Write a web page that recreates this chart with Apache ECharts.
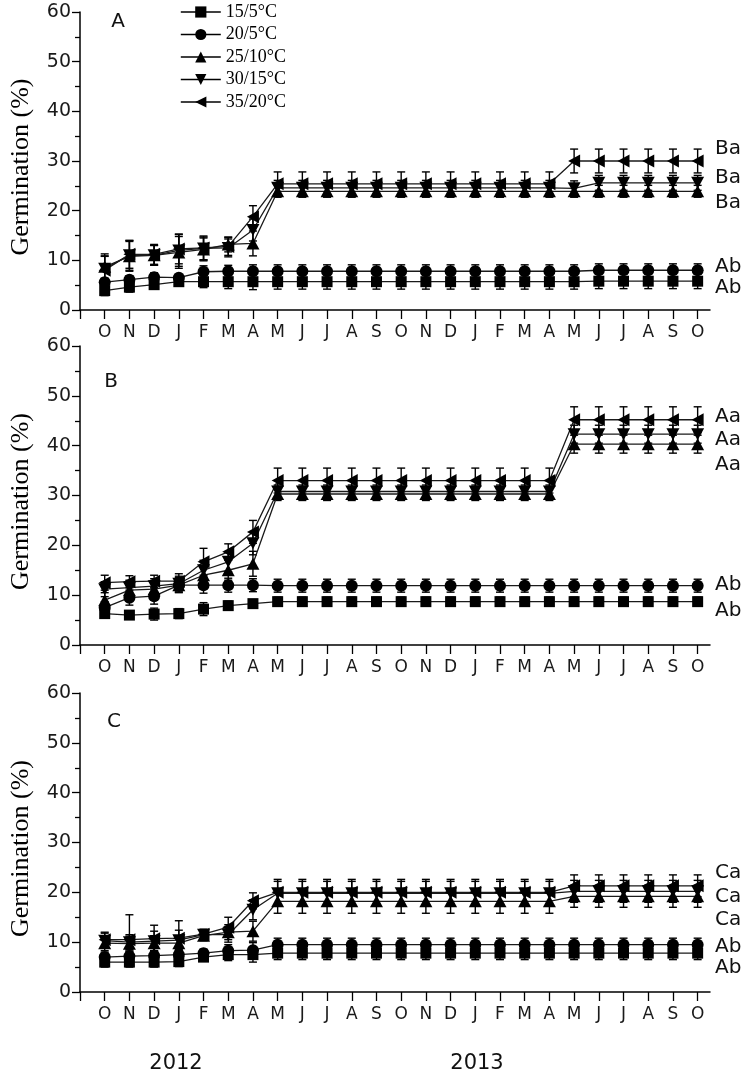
<!DOCTYPE html>
<html><head><meta charset="utf-8">
<script src="https://cdn.jsdelivr.net/npm/echarts@6/dist/echarts.min.js"></script>
<style>html,body{margin:0;padding:0;background:#fff}#c{width:748px;height:1079px}</style>
</head><body><div id="c"></div>
<script>
// ---- data ----
const months = ['O','N','D','J','F','M','A','M','J','J','A','S','O','N','D','J','F','M','A','M','J','J','A','S','O'];
const seriesNames = ['15/5°C','20/5°C','25/10°C','30/15°C','35/20°C'];
const panelLetters = ['A','B','C'];
const years = ['2012','2013'];
const yTickValues = [0,10,20,30,40,50,60];

// Panel A
const A_15 = [3.9,4.6,5.1,5.7,5.7,5.7,5.7, 5.7,5.7,5.7,5.7,5.7,5.7, 5.7,5.7,5.7,5.7,5.7,5.7, 5.7,5.8,5.8,5.8,5.8,5.8];
const A_20 = [5.6,6.1,6.6,6.5,7.7,7.8,7.8, 7.8,7.8,7.8,7.8,7.8,7.8, 7.8,7.8,7.8,7.8,7.8,7.8, 7.8,8.0,8.0,8.0,8.0,8.0];
const A_25 = [8.7,10.8,11.0,11.6,12.2,13.2,13.4, 23.9,23.9,23.9,23.9,23.9,23.9, 23.9,23.9,23.9,23.9,23.9,23.9, 23.9,23.9,23.9,23.9,23.9,23.9];
const A_30 = [8.3,11.0,11.0,12.0,12.4,12.5,16.1, 24.6,24.6,24.6,24.6,24.6,24.6, 24.6,24.6,24.6,24.6,24.6,24.6, 24.5,25.6,25.6,25.6,25.6,25.6];
const A_35 = [8.0,11.2,11.2,12.3,12.5,12.8,18.8, 25.4,25.4,25.4,25.4,25.4,25.4, 25.4,25.4,25.4,25.4,25.4,25.4, 30.0,30.0,30.0,30.0,30.0,30.0];
const eA_15 = [1.0,1.0,0.8,0.6,1.2,1.4,1.6, 1.5,1.5,1.5,1.5,1.5,1.5, 1.5,1.5,1.5,1.5,1.5,1.5, 1.5,1.5,1.5,1.5,1.5,1.5];
const eA_20 = [0.8,0.8,0.9,0.6,1.2,1.2,1.3, 1.3,1.3,1.3,1.3,1.3,1.3, 1.3,1.3,1.3,1.3,1.3,1.3, 1.3,1.3,1.3,1.3,1.3,1.3];
const eA_25 = [2.6,3.0,2.0,3.2,2.3,1.5,2.5, 1.2,1.2,1.2,1.2,1.2,1.2, 1.2,1.2,1.2,1.2,1.2,1.2, 1.2,1.2,1.2,1.2,1.2,1.2];
const eA_30 = [2.6,3.0,2.0,3.2,2.3,1.8,2.2, 1.5,1.5,1.5,1.5,1.5,1.5, 1.5,1.5,1.5,1.5,1.5,1.5, 1.5,1.5,1.5,1.5,1.5,1.5];
const eA_35 = [2.8,2.8,2.0,3.0,2.4,1.8,2.2, 2.4,2.4,2.4,2.4,2.4,2.4, 2.4,2.4,2.4,2.4,2.4,2.4, 2.4,2.4,2.4,2.4,2.4,2.4];

// Panel B
const B_15 = [6.3,6.0,6.2,6.3,7.2,7.9,8.3, 8.7,8.7,8.7,8.7,8.7,8.7, 8.7,8.7,8.7,8.7,8.7,8.7, 8.7,8.7,8.7,8.7,8.7,8.7];
const B_20 = [7.5,9.5,9.8,12.0,12.0,12.0,12.0, 11.9,11.9,11.9,11.9,11.9,11.9, 11.9,11.9,11.9,11.9,11.9,11.9, 11.9,11.9,11.9,11.9,11.9,11.9];
const B_25 = [9.0,11.0,11.2,12.0,14.0,15.0,16.3, 30.3,30.3,30.3,30.3,30.3,30.3, 30.3,30.3,30.3,30.3,30.3,30.3, 40.3,40.3,40.3,40.3,40.3,40.3];
const B_30 = [11.2,11.5,11.8,12.3,15.0,16.7,20.4, 30.8,30.8,30.8,30.8,30.8,30.8, 30.8,30.8,30.8,30.8,30.8,30.8, 42.3,42.3,42.3,42.3,42.3,42.3];
const B_35 = [12.5,12.7,12.8,12.8,16.7,18.7,22.7, 33.0,33.0,33.0,33.0,33.0,33.0, 33.0,33.0,33.0,33.0,33.0,33.0, 45.2,45.2,45.2,45.2,45.2,45.2];
const eB_15 = [0.8,0.8,1.2,1.0,1.3,0.9,0.8, 0.9,0.9,0.9,0.9,0.9,0.9, 0.9,0.9,0.9,0.9,0.9,0.9, 0.9,0.9,0.9,0.9,0.9,0.9];
const eB_20 = [1.2,1.5,1.6,1.4,1.6,1.4,1.3, 1.3,1.3,1.3,1.3,1.3,1.3, 1.3,1.3,1.3,1.3,1.3,1.3, 1.3,1.3,1.3,1.3,1.3,1.3];
const eB_25 = [1.5,1.5,1.5,1.5,2.0,2.0,2.5, 1.3,1.3,1.3,1.3,1.3,1.3, 1.3,1.3,1.3,1.3,1.3,1.3, 1.8,1.8,1.8,1.8,1.8,1.8];
const eB_30 = [1.5,1.5,1.5,1.5,2.0,2.0,2.3, 1.3,1.3,1.3,1.3,1.3,1.3, 1.3,1.3,1.3,1.3,1.3,1.3, 1.8,1.8,1.8,1.8,1.8,1.8];
const eB_35 = [1.5,1.2,1.2,1.5,2.7,1.6,2.3, 2.5,2.5,2.5,2.5,2.5,2.5, 2.5,2.5,2.5,2.5,2.5,2.5, 2.6,2.6,2.6,2.6,2.6,2.6];

// Panel C
const C_15 = [6.0,6.0,6.0,6.1,7.0,7.5,7.5, 7.8,7.8,7.8,7.8,7.8,7.8, 7.8,7.8,7.8,7.8,7.8,7.8, 7.8,7.8,7.8,7.8,7.8,7.8];
const C_20 = [7.0,7.2,7.3,7.5,7.8,8.3,8.4, 9.5,9.5,9.5,9.5,9.5,9.5, 9.5,9.5,9.5,9.5,9.5,9.5, 9.5,9.5,9.5,9.5,9.5,9.5];
const C_25 = [9.8,9.7,9.8,9.8,11.3,12.0,12.2, 18.2,18.2,18.2,18.2,18.2,18.2, 18.2,18.2,18.2,18.2,18.2,18.2, 19.2,19.2,19.2,19.2,19.2,19.2];
const C_30 = [10.3,10.0,10.2,10.4,11.5,11.5,16.5, 19.8,19.8,19.8,19.8,19.8,19.8, 19.8,19.8,19.8,19.8,19.8,19.8, 20.2,20.2,20.2,20.2,20.2,20.2];
const C_35 = [10.5,10.5,10.7,10.8,11.6,13.0,18.3, 20.0,20.0,20.0,20.0,20.0,20.0, 20.0,20.0,20.0,20.0,20.0,20.0, 21.3,21.3,21.3,21.3,21.3,21.3];
const eC_15 = [1.0,1.0,1.0,1.0,0.8,1.2,1.5, 1.3,1.3,1.3,1.3,1.3,1.3, 1.3,1.3,1.3,1.3,1.3,1.3, 1.3,1.3,1.3,1.3,1.3,1.3];
const eC_20 = [1.0,1.0,1.0,1.0,0.8,1.2,1.5, 1.3,1.3,1.3,1.3,1.3,1.3, 1.3,1.3,1.3,1.3,1.3,1.3, 1.3,1.3,1.3,1.3,1.3,1.3];
const eC_25 = [1.5,1.5,1.5,1.5,1.0,1.5,2.0, 2.4,2.4,2.4,2.4,2.4,2.4, 2.4,2.4,2.4,2.4,2.4,2.4, 2.2,2.2,2.2,2.2,2.2,2.2];
const eC_30 = [1.5,1.5,2.0,2.0,1.0,1.5,2.0, 2.4,2.4,2.4,2.4,2.4,2.4, 2.4,2.4,2.4,2.4,2.4,2.4, 2.2,2.2,2.2,2.2,2.2,2.2];
const eC_35 = [1.5,5.0,2.7,3.5,1.0,2.0,1.6, 2.6,2.6,2.6,2.6,2.6,2.6, 2.6,2.6,2.6,2.6,2.6,2.6, 2.2,2.2,2.2,2.2,2.2,2.2];

// significance letters at right of each panel
const lettersA = ['Ba','Ba','Ba','Ab','Ab'];
const lettersB = ['Aa','Aa','Aa','Ab','Ab'];
const lettersC = ['Ca','Ca','Ca','Ab','Ab'];

// ---- build ----
const panels = [
  {vals:[A_15,A_20,A_25,A_30,A_35], errs:[eA_15,eA_20,eA_25,eA_30,eA_35]},
  {vals:[B_15,B_20,B_25,B_30,B_35], errs:[eB_15,eB_20,eB_25,eB_30,eB_35]},
  {vals:[C_15,C_20,C_25,C_30,C_35], errs:[eC_15,eC_20,eC_25,eC_30,eC_35]}
];
const gridBoxes = [
  {left:76, width:634, top:12, height:298},
  {left:76, width:634, top:346, height:299},
  {left:76, width:634, top:693, height:299}
];
const symbols = ['rect','circle','triangle','path://M0,0L10,0L5,9Z','path://M0,5L10,0L10,10Z'];
const symbolSizes = [11,12,[13,12],[13,12],[12,13]];

const idx = months.map((m,i)=>i);
const tickVals = [-1].concat(idx);

function errRender(params, api){
  const x = api.value(0), y = api.value(1), e = api.value(2);
  const hi = api.coord([x, y+e]), lo = api.coord([x, y-e]);
  const hw = 4;
  const st = {stroke:'#000', lineWidth:1.4, fill:null};
  return {type:'group', children:[
    {type:'line', shape:{x1:hi[0],y1:hi[1],x2:lo[0],y2:lo[1]}, style:st},
    {type:'line', shape:{x1:hi[0]-hw,y1:hi[1],x2:hi[0]+hw,y2:hi[1]}, style:st},
    {type:'line', shape:{x1:lo[0]-hw,y1:lo[1],x2:lo[0]+hw,y2:lo[1]}, style:st}
  ]};
}

const xAxes = [], yAxes = [], series = [];
gridBoxes.forEach((g,p)=>{
  xAxes.push({type:'value', gridIndex:p, min:-1, max:24.5, interval:1,
    axisLine:{show:true, onZero:false, lineStyle:{color:'#000', width:1.5}},
    axisTick:{show:true, length:9, customValues:tickVals, lineStyle:{color:'#000', width:1.3}},
    axisLabel:{show:true, customValues:idx, formatter:v=>months[Math.round(v)]||'', margin:14,
      fontFamily:'DejaVu Sans', fontSize:17, color:'#1a1a1a'},
    splitLine:{show:false}});
  yAxes.push({type:'value', gridIndex:p, min:0, max:60, interval:10,
    name:'Germination (%)', nameLocation:'middle', nameGap:46,
    nameTextStyle:{fontFamily:'Liberation Serif', fontSize:26, color:'#000', padding:[0,12,0,0]},
    axisLine:{show:true, onZero:false, lineStyle:{color:'#000', width:1.5}},
    axisTick:{show:true, length:8, lineStyle:{color:'#000', width:1.3}},
    minorTick:{show:true, splitNumber:2, length:5, lineStyle:{color:'#000', width:1.3}},
    axisLabel:{margin:9, fontFamily:'DejaVu Sans', fontSize:19, color:'#1a1a1a',
      formatter:v=> yTickValues.indexOf(v)>=0 ? String(v) : ''},
    splitLine:{show:false}, minorSplitLine:{show:false}});
  const P = panels[p];
  P.vals.forEach((vals,s)=>{
    series.push({type:'custom', xAxisIndex:p, yAxisIndex:p, silent:true, z:2,
      encode:{x:0, y:1},
      data: vals.map((v,i)=>[i, v, P.errs[s][i]]), renderItem: errRender});
  });
  P.vals.forEach((vals,s)=>{
    series.push({type:'line', name:seriesNames[s], xAxisIndex:p, yAxisIndex:p, z:3,
      data: vals.map((v,i)=>[i, v]), symbol:symbols[s], symbolSize:symbolSizes[s],
      showAllSymbol:true, itemStyle:{color:'#000', opacity:1},
      lineStyle:{color:'#1a1a1a', width:1.3}});
  });
});

// annotation text (significance letters, panel letters, years)
const graphics = [];
const annotY = [[149,178,203,267,288],[417,440,465,585,611],[873,897,920,947,968]];
[lettersA, lettersB, lettersC].forEach((arr,p)=>{
  arr.forEach((t,k)=>{
    graphics.push({type:'text', x:715, y:annotY[p][k],
      style:{text:t, fill:'#111', font:'20px "DejaVu Sans"', verticalAlign:'middle', align:'left'}});
  });
});
const letterPos = [[118,22],[111,382],[114,722]];
panelLetters.forEach((t,p)=>{
  graphics.push({type:'text', x:letterPos[p][0], y:letterPos[p][1],
    style:{text:t, fill:'#111', font:'20px "DejaVu Sans"', verticalAlign:'middle', align:'center'}});
});
const yearX = [176, 477];
years.forEach((t,k)=>{
  graphics.push({type:'text', x:yearX[k], y:1064,
    style:{text:t, fill:'#111', font:'21px "DejaVu Sans"', verticalAlign:'middle', align:'center'}});
});

const chart = echarts.init(document.getElementById('c'));
chart.setOption({
  animation:false,
  backgroundColor:'#fff',
  grid: gridBoxes,
  xAxis: xAxes,
  yAxis: yAxes,
  legend:{data:seriesNames, orient:'vertical', left:180, top:3, padding:0,
    itemWidth:40, itemHeight:14, itemGap:4.5,
    lineStyle:{width:1.6, color:'#000'},
    textStyle:{fontFamily:'Liberation Serif', fontSize:18, color:'#000'}},
  series: series,
  graphic: graphics
});
</script>
</body></html>
